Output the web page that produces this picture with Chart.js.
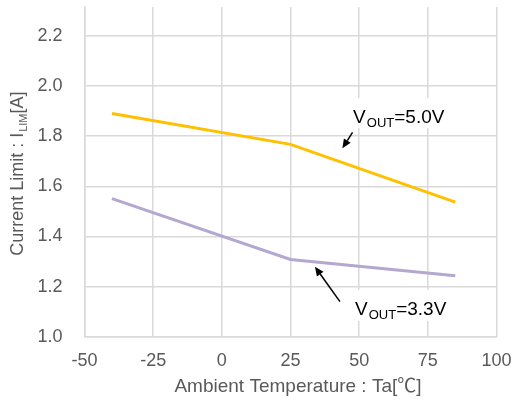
<!DOCTYPE html>
<html>
<head>
<meta charset="utf-8">
<script src="https://cdn.jsdelivr.net/npm/chart.js@4.4.1/dist/chart.umd.min.js"></script>
<style>
  html, body { margin: 0; padding: 0; background: #fff; }
  #wrap { width: 515px; height: 403px; position: relative; }
</style>
</head>
<body>
<div id="wrap"><canvas id="limitChart"></canvas></div>
<script>
// --- DATA ---
const temps = [-40, 25, 85];
const vout50 = [1.89, 1.767, 1.537];
const vout33 = [1.551, 1.308, 1.243];
const xTicks = [-50, -25, 0, 25, 50, 75, 100];
const yTicks = [1.0, 1.2, 1.4, 1.6, 1.8, 2.0, 2.2];

const FONT = '"Liberation Sans", Arial, "Noto Sans CJK JP", sans-serif';
const GRAY = '#595959';
const GRID = '#d9d9d9';

function toPoints(ys) {
    return temps.map((t, i) => ({ x: t, y: ys[i] }));
}

// draws "V" + subscript + rest at x,y (alphabetic baseline)
function drawSubText(ctx, x, y, main, sub, rest, size, subSize) {
    ctx.font = size + 'px ' + FONT;
    ctx.fillText(main, x, y);
    x += ctx.measureText(main).width + 1;
    ctx.font = subSize + 'px ' + FONT;
    ctx.fillText(sub, x, y + size * 0.22);
    x += ctx.measureText(sub).width;
    ctx.font = size + 'px ' + FONT;
    ctx.fillText(rest, x, y);
    return x + ctx.measureText(rest).width;
}

function arrow(ctx, x1, y1, x2, y2) {
    const ang = Math.atan2(y2 - y1, x2 - x1);
    const len = 9, half = 4;
    const bx = x2 - Math.cos(ang) * len, by = y2 - Math.sin(ang) * len;
    ctx.beginPath();
    ctx.moveTo(x1, y1);
    ctx.lineTo(bx, by);
    ctx.strokeStyle = '#000';
    ctx.lineWidth = 1.5;
    ctx.stroke();
    ctx.beginPath();
    ctx.moveTo(x2, y2);
    ctx.lineTo(bx + Math.sin(ang) * half, by - Math.cos(ang) * half);
    ctx.lineTo(bx - Math.sin(ang) * half, by + Math.cos(ang) * half);
    ctx.closePath();
    ctx.fillStyle = '#000';
    ctx.fill();
}

// annotations + axis titles
const labelsPlugin = {
    id: 'labelsPlugin',
    afterDatasetsDraw(chart) {
        const ctx = chart.ctx;
        const xs = chart.scales.x, ys = chart.scales.y;
        const px = v => xs.getPixelForValue(v);
        const py = v => ys.getPixelForValue(v);
        ctx.save();

        // white boxes behind the callout texts
        ctx.fillStyle = '#fff';
        ctx.fillRect(px(47.8) - 6, py(1.852) - 25, 108, 30);
        ctx.fillRect(px(48.5) - 6, py(1.087) - 25, 108, 31);

        ctx.fillStyle = '#000';
        ctx.textBaseline = 'alphabetic';
        ctx.textAlign = 'left';
        drawSubText(ctx, px(47.8), py(1.852), 'V', 'OUT', '=5.0V', 19, 13);
        drawSubText(ctx, px(48.5), py(1.087), 'V', 'OUT', '=3.3V', 19, 13);

        arrow(ctx, px(47.6), py(1.815), px(43.9), py(1.752));
        arrow(ctx, px(43.0), py(1.140), px(33.9), py(1.279));

        // y title (rotated, with subscript)
        ctx.fillStyle = GRAY;
        ctx.save();
        ctx.translate(23, (chart.chartArea.top + chart.chartArea.bottom) / 2 + 84);
        ctx.rotate(-Math.PI / 2);
        drawSubText(ctx, 0, 0, 'Current Limit : I', 'LIM', '[A]', 18, 11);
        ctx.restore();

        // x title
        ctx.font = '19px ' + FONT;
        ctx.textAlign = 'center';
        ctx.textBaseline = 'middle';
        ctx.fillText('Ambient Temperature : Ta[℃]', 298, 387);

        ctx.restore();
    }
};

new Chart(document.getElementById('limitChart'), {
    type: 'line',
    data: {
        datasets: [
            { label: 'VOUT=5.0V', data: toPoints(vout50), borderColor: '#FFC000', borderWidth: 3, pointRadius: 0, tension: 0 },
            { label: 'VOUT=3.3V', data: toPoints(vout33), borderColor: '#B4A7D0', borderWidth: 3, pointRadius: 0, tension: 0 }
        ]
    },
    options: {
        responsive: true,
        maintainAspectRatio: false,
        animation: false,
        layout: { padding: { top: 7, right: 18.5, left: 0, bottom: 0 } },
        plugins: { legend: { display: false }, tooltip: { enabled: false } },
        scales: {
            x: {
                type: 'linear',
                min: -50, max: 100,
                afterBuildTicks: s => { s.ticks = xTicks.map(v => ({ value: v })); },
                afterFit: s => { s.height = 66.3; s.paddingLeft = 0; s.paddingRight = 0; },
                ticks: { color: GRAY, padding: 14, font: { size: 18, family: FONT } },
                grid: { color: GRID, lineWidth: 1.5, drawTicks: false },
                border: { color: GRID, width: 1.5 }
            },
            y: {
                min: 1.0, max: 2.315,
                afterBuildTicks: s => { s.ticks = yTicks.map(v => ({ value: v })); },
                afterFit: s => { s.width = 84.5; s.paddingTop = 0; s.paddingBottom = 0; },
                ticks: { color: GRAY, padding: 22, font: { size: 18, family: FONT }, callback: v => v.toFixed(1) },
                grid: { color: GRID, lineWidth: 1.5, drawTicks: false },
                border: { color: GRID, width: 1.5 }
            }
        }
    },
    plugins: [labelsPlugin]
});
</script>
</body>
</html>
